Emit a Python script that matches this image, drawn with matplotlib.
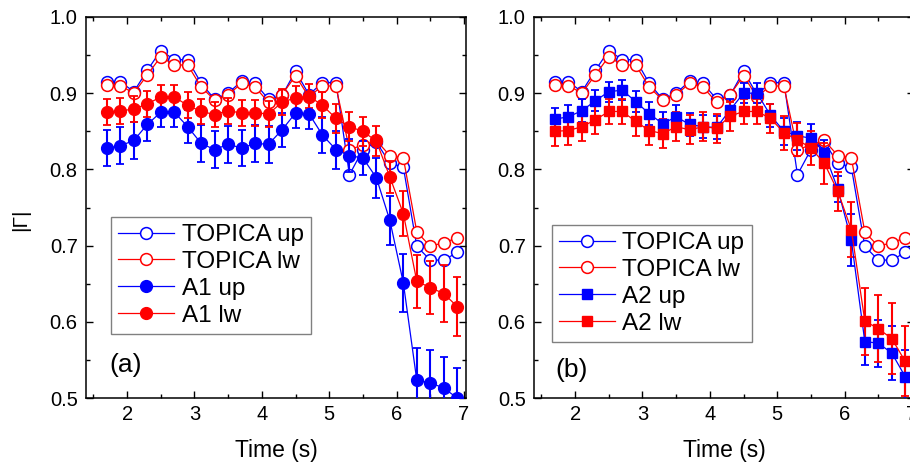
import matplotlib.pyplot as plt
from matplotlib.ticker import MultipleLocator

plt.rcParams["font.family"] = ["Liberation Sans", "DejaVu Sans"]

time_s = [1.7, 1.9, 2.1, 2.3, 2.5, 2.7, 2.9, 3.1, 3.3, 3.5, 3.7, 3.9, 4.1, 4.3,
          4.5, 4.7, 4.9, 5.1, 5.3, 5.5, 5.7, 5.9, 6.1, 6.3, 6.5, 6.7, 6.9]

topica_up = [0.915, 0.915, 0.902, 0.930, 0.956, 0.944, 0.944, 0.913, 0.892, 0.900,
             0.916, 0.913, 0.892, 0.897, 0.929, 0.898, 0.914, 0.914, 0.793, 0.826,
             0.836, 0.808, 0.803, 0.699, 0.681, 0.681, 0.691]
topica_lw = [0.911, 0.910, 0.900, 0.924, 0.948, 0.937, 0.937, 0.908, 0.891, 0.898,
             0.913, 0.908, 0.888, 0.898, 0.923, 0.895, 0.910, 0.909, 0.826, 0.832,
             0.838, 0.818, 0.815, 0.718, 0.699, 0.704, 0.710]

a1_up = [0.828, 0.831, 0.838, 0.859, 0.875, 0.875, 0.856, 0.834, 0.826, 0.833,
         0.828, 0.834, 0.833, 0.852, 0.874, 0.873, 0.845, 0.826, 0.818, 0.815,
         0.789, 0.733, 0.651, 0.523, 0.520, 0.513, 0.500]
a1_up_err = [0.024, 0.024, 0.024, 0.022, 0.020, 0.020, 0.022, 0.024, 0.024, 0.024,
             0.024, 0.024, 0.024, 0.022, 0.020, 0.020, 0.024, 0.025, 0.022, 0.022,
             0.026, 0.032, 0.038, 0.043, 0.043, 0.041, 0.040]
a1_lw = [0.875, 0.877, 0.879, 0.886, 0.895, 0.895, 0.884, 0.876, 0.872, 0.877,
         0.874, 0.874, 0.873, 0.888, 0.894, 0.896, 0.884, 0.867, 0.856, 0.850,
         0.837, 0.790, 0.742, 0.653, 0.645, 0.637, 0.620]
a1_lw_err = [0.017, 0.017, 0.017, 0.017, 0.016, 0.016, 0.017, 0.017, 0.017, 0.017,
             0.017, 0.017, 0.017, 0.017, 0.016, 0.016, 0.017, 0.019, 0.019, 0.019,
             0.020, 0.021, 0.030, 0.035, 0.035, 0.037, 0.039]

a2_up = [0.866, 0.869, 0.877, 0.890, 0.902, 0.904, 0.889, 0.873, 0.860, 0.869,
         0.859, 0.856, 0.855, 0.878, 0.900, 0.900, 0.871, 0.850, 0.844, 0.841,
         0.822, 0.774, 0.707, 0.574, 0.572, 0.559, 0.528]
a2_up_err = [0.015, 0.015, 0.015, 0.014, 0.013, 0.013, 0.014, 0.015, 0.015, 0.015,
             0.015, 0.015, 0.015, 0.015, 0.013, 0.013, 0.015, 0.018, 0.018, 0.018,
             0.017, 0.017, 0.034, 0.031, 0.031, 0.036, 0.035]
a2_lw = [0.850, 0.851, 0.856, 0.865, 0.876, 0.876, 0.863, 0.851, 0.847, 0.856,
         0.852, 0.856, 0.854, 0.870, 0.876, 0.876, 0.867, 0.848, 0.839, 0.828,
         0.808, 0.771, 0.721, 0.601, 0.591, 0.578, 0.548]
a2_lw_err = [0.019, 0.019, 0.019, 0.019, 0.016, 0.016, 0.019, 0.019, 0.019, 0.019,
             0.019, 0.019, 0.019, 0.019, 0.017, 0.017, 0.019, 0.022, 0.022, 0.022,
             0.027, 0.026, 0.036, 0.044, 0.044, 0.047, 0.046]

BLUE = "#0000ff"
RED = "#ff0000"

W, H = 910, 470
fig = plt.figure(figsize=(W / 100, H / 100), dpi=100)
ax_a = fig.add_axes([86 / W, 1 - 398 / H, 380 / W, 381 / H])
ax_b = fig.add_axes([534 / W, 1 - 398 / H, 380 / W, 381 / H])


def draw_panel(ax, up, up_err, lw, lw_err, tag, letter, marker, msize,
               legend_anchor, tag_xy):
    h1, = ax.plot(time_s, topica_up, "-o", color=BLUE, lw=0.9, ms=8.5, mfc="white",
                  mec=BLUE, mew=1.1, label="TOPICA up", zorder=3)
    h2, = ax.plot(time_s, topica_lw, "-o", color=RED, lw=0.9, ms=8.5, mfc="white",
                  mec=RED, mew=1.1, label="TOPICA lw", zorder=3)
    e1 = ax.errorbar(time_s, up, yerr=up_err, fmt="-" + marker, color=BLUE, lw=0.9,
                     ms=msize, mec=BLUE, elinewidth=1.5, capsize=3, capthick=1.3,
                     label=f"{tag} up", zorder=4)
    e2 = ax.errorbar(time_s, lw, yerr=lw_err, fmt="-" + marker, color=RED, lw=0.9,
                     ms=msize, mec=RED, elinewidth=1.5, capsize=3, capthick=1.3,
                     label=f"{tag} lw", zorder=4)

    ax.set_xlim(1.39, 7.03)
    ax.set_ylim(0.5, 1.0)
    ax.xaxis.set_major_locator(MultipleLocator(1))
    ax.xaxis.set_minor_locator(MultipleLocator(0.5))
    ax.yaxis.set_major_locator(MultipleLocator(0.1))
    ax.yaxis.set_minor_locator(MultipleLocator(0.05))
    ax.yaxis.set_major_formatter(lambda v, p: f"{v:.1f}")
    ax.tick_params(which="both", direction="in", top=True, right=True,
                   width=1, labelsize=14.5)
    ax.tick_params(which="major", length=5)
    ax.tick_params(which="minor", length=3)
    ax.tick_params(axis="y", pad=6)
    ax.tick_params(axis="x", pad=5)
    for s in ax.spines.values():
        s.set_linewidth(1.1)
    ax.set_xlabel("Time (s)", fontsize=16.5, labelpad=11)

    leg = ax.legend(handles=[h1, h2, e1[0], e2[0]],
                    labels=["TOPICA up", "TOPICA lw", f"{tag} up", f"{tag} lw"],
                    loc="lower left", bbox_to_anchor=legend_anchor, fontsize=17.5,
                    frameon=True, fancybox=False, edgecolor="#808080",
                    handlelength=2.3, labelspacing=0.2, borderpad=0.3,
                    handletextpad=0.3, borderaxespad=0, framealpha=1)
    leg.get_frame().set_linewidth(1.0)
    ax.text(tag_xy[0], tag_xy[1], letter, transform=ax.transAxes,
            fontsize=19, ha="left", va="center")


draw_panel(ax_a, a1_up, a1_up_err, a1_lw, a1_lw_err, "A1", "(a)", "o", 8.5,
           (0.066, 0.168), (0.062, 0.087))
draw_panel(ax_b, a2_up, a2_up_err, a2_lw, a2_lw_err, "A2", "(b)", "s", 7,
           (0.047, 0.147), (0.055, 0.073))

fig.text(21 / W, 1 - 220 / H, "|Γ|", rotation=90, fontsize=15,
         ha="center", va="center")

fig.savefig("out.png", dpi=100)
